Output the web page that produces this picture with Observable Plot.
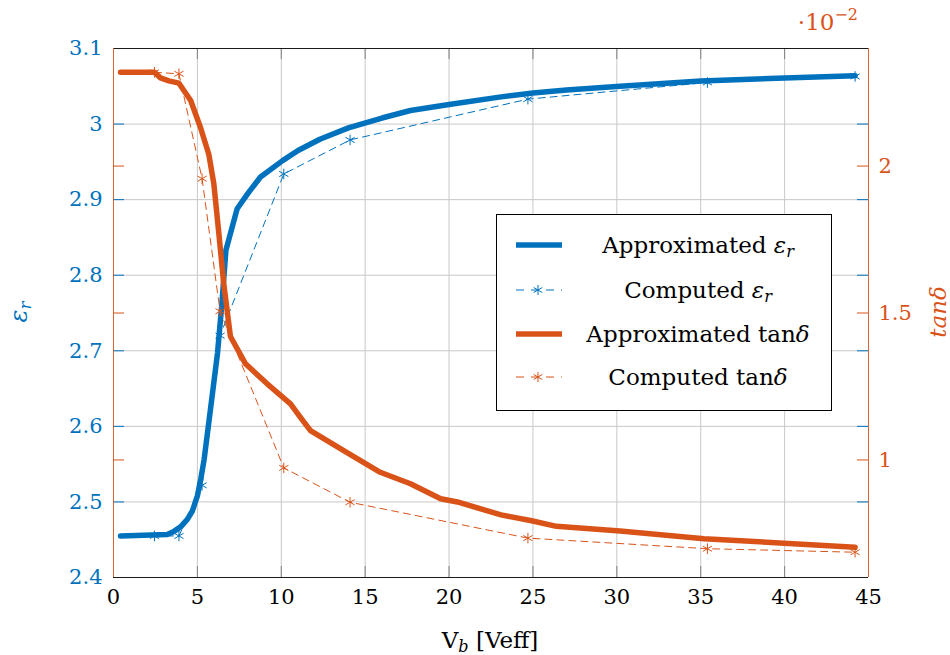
<!DOCTYPE html>
<html><head><meta charset="utf-8">
<script src="https://cdn.jsdelivr.net/npm/d3@7"></script>
<script src="https://cdn.jsdelivr.net/npm/@observablehq/plot@0.6"></script>
<style>
body{margin:0;background:#fff;}
#wrap{position:relative;width:950px;height:655px;font-family:"DejaVu Serif",serif;color:#000;}
#wrap svg, #wrap svg text{font-family:"DejaVu Serif",serif !important;font-size:21px !important;}
.ov{position:absolute;white-space:nowrap;line-height:1;}
#legend{position:absolute;left:496px;top:214px;width:336px;height:197px;box-sizing:border-box;border:1px solid #000;background:#fff;}
.row{position:absolute;left:0;width:100%;height:0;}
.row svg{position:absolute;left:19px;top:-10px;}
.row span{position:absolute;left:201px;top:0;transform:translate(-50%,-50%);font-size:23px;white-space:nowrap;line-height:1;}
i{font-style:italic;}
sub{font-size:0.7em;vertical-align:-0.25em;line-height:0;}
</style></head><body><div id="wrap"></div>
<script>
// ---- data ----
const approxEpsX = [0.42, 3.2, 3.6, 4.0, 4.4, 4.7, 5.0, 5.2, 5.4, 5.8, 6.2, 6.45, 6.7, 7.37, 8.0, 8.76, 10.1, 11.0, 12.3, 14.0, 16.0, 17.7, 20.0, 23.1, 25.0, 27.0, 30.2, 35.0, 40.0, 44.2];
const approxEpsY = [2.455, 2.457, 2.461, 2.467, 2.477, 2.488, 2.508, 2.530, 2.556, 2.626, 2.697, 2.760, 2.833, 2.888, 2.908, 2.930, 2.952, 2.965, 2.980, 2.995, 3.008, 3.018, 3.026, 3.036, 3.041, 3.045, 3.050, 3.057, 3.061, 3.064];

const computedX = [2.44, 3.9, 5.28, 6.35, 10.15, 14.1, 24.7, 35.4, 44.2];
const computedEps = [2.455, 2.455, 2.522, 2.72, 2.934, 2.979, 3.033, 3.055, 3.063];
const computedTan = [2.319, 2.314, 1.957, 1.506, 0.973, 0.856, 0.734, 0.698, 0.686];

const approxTanX = [0.42, 2.44, 2.8, 3.3, 3.9, 4.6, 5.18, 5.68, 5.98, 6.28, 6.57, 6.97, 7.87, 9.16, 10.55, 11.14, 11.74, 13.72, 15.9, 17.7, 19.5, 20.5, 23.1, 24.85, 26.4, 30.2, 35.2, 44.2];
const approxTanY = [2.319, 2.319, 2.300, 2.290, 2.282, 2.223, 2.132, 2.040, 1.940, 1.770, 1.600, 1.420, 1.327, 1.259, 1.191, 1.145, 1.100, 1.032, 0.958, 0.919, 0.868, 0.857, 0.813, 0.794, 0.774, 0.758, 0.732, 0.703];

const xTicks = [0, 5, 10, 15, 20, 25, 30, 35, 40, 45];
const epsTicks = [2.4, 2.5, 2.6, 2.7, 2.8, 2.9, 3.0, 3.1];
const tanTicks = [1, 1.5, 2];
const xDomain = [0, 45];
const epsDomain = [2.4, 3.1];
const tanDomain = [0.6, 2.4];

// ---- helpers ----
const BLUE = "#0072BD", RED = "#D95319";
const FONT = "'DejaVu Serif', serif";
const t2y = t => epsDomain[0] + (t - tanDomain[0]) * (epsDomain[1] - epsDomain[0]) / (tanDomain[1] - tanDomain[0]);
const y2t = y => tanDomain[0] + (y - epsDomain[0]) * (tanDomain[1] - tanDomain[0]) / (epsDomain[1] - epsDomain[0]);

const epsApprox = approxEpsX.map((x, i) => ({x, y: approxEpsY[i]}));
const epsComp = computedX.map((x, i) => ({x, y: computedEps[i]}));
const tanApprox = approxTanX.map((x, i) => ({x, t: approxTanY[i]}));
const tanComp = computedX.map((x, i) => ({x, t: computedTan[i]}));

const innerX = xTicks.slice(1, -1);
const innerEps = epsTicks.slice(1, -1);
const tanMapped = tanTicks.map(t2y);
const fmt = d => String(+(+d).toFixed(2));

const plot = Plot.plot({
  width: 950, height: 655,
  marginLeft: 113, marginRight: 82, marginTop: 48, marginBottom: 78,
  x: {domain: xDomain},
  y: {domain: epsDomain},
  style: {fontFamily: FONT, fontSize: "21px", background: "transparent", overflow: "visible"},
  marks: [
    Plot.gridX(innerX, {stroke: "#c8c8c8", strokeOpacity: 1}),
    Plot.gridY(innerEps, {stroke: "#c8c8c8", strokeOpacity: 1}),
    // inward ticks
    Plot.ruleX(innerX, {x: d => d, y1: epsDomain[0], y2: epsDomain[0], insetTop: -11, stroke: "#808080"}),
    Plot.ruleX(innerX, {x: d => d, y1: epsDomain[1], y2: epsDomain[1], insetBottom: -11, stroke: "#808080"}),
    Plot.ruleY(innerEps, {y: d => d, x1: xDomain[0], x2: xDomain[0], insetRight: -11, stroke: BLUE}),
    Plot.ruleY(innerEps, {y: d => d, x1: xDomain[1], x2: xDomain[1], insetLeft: -11, stroke: BLUE}),
    Plot.ruleY(tanMapped, {y: d => d, x1: xDomain[0], x2: xDomain[0], insetRight: -11, stroke: RED}),
    Plot.ruleY(tanMapped, {y: d => d, x1: xDomain[1], x2: xDomain[1], insetLeft: -11, stroke: RED}),
    // axes labels
    Plot.axisX(xTicks, {anchor: "bottom", tickSize: 0, tickPadding: 12, color: "#000", label: null, fontFamily: FONT, fontSize: 21}),
    Plot.axisY(epsTicks, {anchor: "left", tickSize: 0, tickPadding: 11, color: BLUE, tickFormat: fmt, label: null, fontFamily: FONT, fontSize: 21}),
    Plot.axisY(tanMapped, {anchor: "right", tickSize: 0, tickPadding: 10, color: RED, tickFormat: d => fmt(y2t(d)), label: null, fontFamily: FONT, fontSize: 21}),
    // data
    Plot.line(epsApprox, {x: "x", y: "y", stroke: BLUE, strokeWidth: 5.5}),
    Plot.line(epsComp, {x: "x", y: "y", stroke: BLUE, strokeWidth: 1, strokeDasharray: "7,5"}),
    Plot.dot(epsComp, {x: "x", y: "y", symbol: "asterisk", r: 5, stroke: BLUE, strokeWidth: 1}),
    Plot.line(tanApprox, {x: "x", y: d => t2y(d.t), stroke: RED, strokeWidth: 5.5}),
    Plot.line(tanComp, {x: "x", y: d => t2y(d.t), stroke: RED, strokeWidth: 1, strokeDasharray: "7,5"}),
    Plot.dot(tanComp, {x: "x", y: d => t2y(d.t), symbol: "asterisk", r: 5, stroke: RED, strokeWidth: 1}),
    // frame
    Plot.ruleY(epsDomain, {stroke: "#1a1a1a"}),
    Plot.ruleX(xDomain, {stroke: RED, strokeOpacity: 0.9})
  ]
});

const wrap = document.getElementById("wrap");
wrap.appendChild(plot);

// overlays: axis labels, multiplier, legend
const sym = (c) => `<g stroke="${c}" stroke-width="1"><line x1="22" y1="5" x2="22" y2="15"/><line x1="17.7" y1="7.5" x2="26.3" y2="12.5"/><line x1="17.7" y1="12.5" x2="26.3" y2="7.5"/></g>`;
const solid = c => `<svg width="48" height="20"><line x1="0" y1="10" x2="46" y2="10" stroke="${c}" stroke-width="5.5"/></svg>`;
const dashed = c => `<svg width="48" height="20"><line x1="0" y1="10" x2="46" y2="10" stroke="${c}" stroke-width="1" stroke-dasharray="8,7" stroke-dashoffset="0"/>${sym(c)}</svg>`;
const legendRows = [
  {y: 30, sample: solid(BLUE), label: 'Approximated <i>ε<sub>r</sub></i>'},
  {y: 75, sample: dashed(BLUE), label: 'Computed <i>ε<sub>r</sub></i>'},
  {y: 119, sample: solid(RED), label: 'Approximated tan<i>δ</i>'},
  {y: 162, sample: dashed(RED), label: 'Computed tan<i>δ</i>'}
];
const leg = document.createElement("div");
leg.id = "legend";
leg.innerHTML = legendRows.map(r => `<div class="row" style="top:${r.y}px">${r.sample}<span>${r.label}</span></div>`).join("");
wrap.appendChild(leg);

const add = (html, style) => { const d = document.createElement("div"); d.className = "ov"; d.innerHTML = html; Object.assign(d.style, style); wrap.appendChild(d); };
add('V<i><sub>b</sub></i> [Veff]', {left: "490px", top: "629px", transform: "translateX(-50%)", fontSize: "23px"});
add('<i>ε<sub>r</sub></i>', {left: "19px", top: "312px", transform: "translate(-50%,-50%) rotate(-90deg)", fontSize: "24px", color: BLUE});
add('<i>tanδ</i>', {left: "938px", top: "312px", transform: "translate(-50%,-50%) rotate(-90deg)", fontSize: "23px", color: RED});
add('·10<span style="font-size:16px;position:relative;top:-10px">−2</span>', {right: "92px", top: "11px", fontSize: "23px", color: RED});
</script></body></html>
